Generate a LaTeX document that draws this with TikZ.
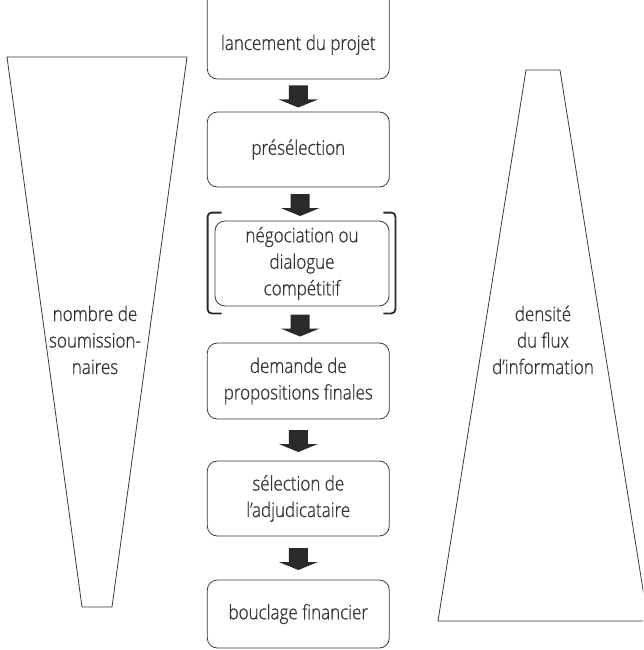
\documentclass[tikz,border=0pt]{standalone}
\usepackage{fontspec}
\IfFontExistsTF{Open Sans Light}{\setmainfont{Open Sans Light}[FakeStretch=0.85,FakeBold=0.8]}{\setmainfont{Open Sans}[FakeStretch=0.85]}
\usetikzlibrary{calc}
\definecolor{txt}{HTML}{333333}
\definecolor{edge}{HTML}{3A3A3A}
\definecolor{arr}{HTML}{2A2A2A}
\tikzset{
  stage/.style={draw=edge, line width=0.8pt, rounded corners=10pt, minimum width=182pt,
    inner sep=0pt, align=center, text=txt, font=\fontsize{20}{26.5}\selectfont},
  lbl/.style={inner sep=0pt, align=center, text=txt, font=\fontsize{20}{26.5}\selectfont},
  funnel/.style={draw=edge, line width=0.8pt},
  brk/.style={draw=arr, line width=1.8pt, rounded corners=4pt},
  blk/.style={fill=arr, draw=none, to path={let \p1=($(\tikztostart)!0.5!(\tikztotarget)$) in
    (\x1-9.5pt,\y1+10pt) -- (\x1+9.5pt,\y1+10pt) -- (\x1+9.5pt,\y1-4pt) -- (\x1+19.5pt,\y1-4pt)
    -- (\x1,\y1-12pt) -- (\x1-19.5pt,\y1-4pt) -- (\x1-9.5pt,\y1-4pt) -- cycle}}
}
\begin{document}
\begin{tikzpicture}[x=1pt,y=-1pt]
\path[use as bounding box, clip] (0,0) rectangle (643,650);
% funnels
\draw[funnel] (7,57) -- (187,57) -- (112,607) -- (82,607) -- cycle;
\draw[funnel] (526,70) -- (560,70) -- (648,621) -- (438,621) -- cycle;
\node[lbl] (tl) at (95,340) {nombre de\\soumission-\\naires};
\node[lbl] (tr) at (543,340) {densité\\du flux\\d’information};
% stages
\node[stage, minimum height=91pt] (n1) at (298.3,33.5) {\raisebox{-16.5pt}[0pt][0pt]{lancement du projet}};
\node[stage, minimum height=75pt] (n2) at (298.3,149.5) {présélection};
\node[stage, minimum height=85pt, minimum width=174pt] (n3) at (302,263.5) {négociation ou\\dialogue\\compétitif};
\node[stage, minimum height=76pt] (n4) at (298.3,381) {demande de\\propositions finales};
\node[stage, minimum height=75pt] (n5) at (298.3,498.5) {sélection de\\l’adjudicataire};
\node[stage, minimum height=68pt] (n6) at (298.3,614) {bouclage financier};
% brackets
\draw[brk] ([xshift=7pt,yshift=8pt]n3.north west) -- ([xshift=-7pt,yshift=8pt]n3.north west)
  -- ([xshift=-7pt,yshift=-7pt]n3.south west) -- ([xshift=7pt,yshift=-7pt]n3.south west);
\draw[brk] ([xshift=-6pt,yshift=8pt]n3.north east) -- ([xshift=6pt,yshift=8pt]n3.north east)
  -- ([xshift=6pt,yshift=-7pt]n3.south east) -- ([xshift=-6pt,yshift=-7pt]n3.south east);
% arrows
\path[blk] (n1.south) to (n2.north);
\path[blk] (n2.south) to (n3.north);
\path[blk] (n3.south) to (n4.north);
\path[blk] (n4.south) to (n5.north);
\path[blk] (n5.south) to (n6.north);
\end{tikzpicture}
\end{document}
